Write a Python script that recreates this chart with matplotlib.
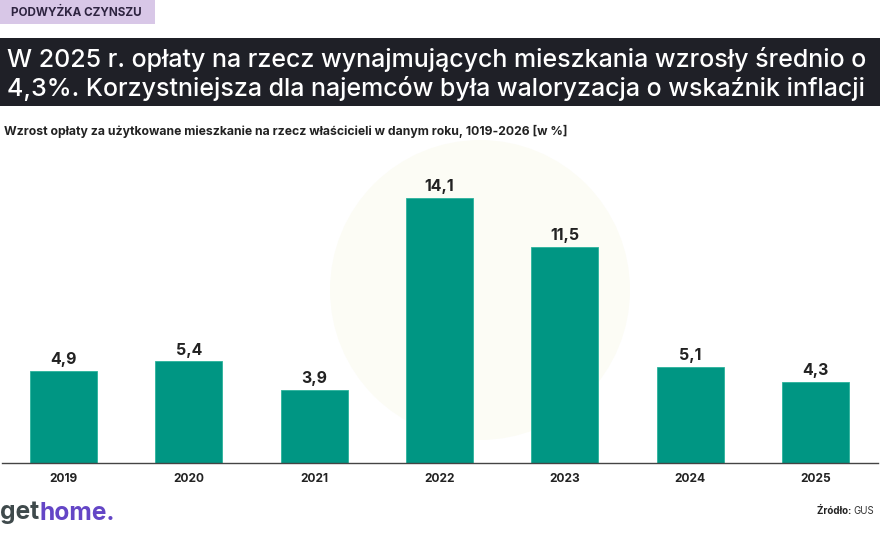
import matplotlib.pyplot as plt
from matplotlib.patches import Rectangle, Ellipse

plt.rcParams['font.family'] = ['Inter', 'DejaVu Sans']

years = ['2019', '2020', '2021', '2022', '2023', '2024', '2025']
values = [4.9, 5.4, 3.9, 14.1, 11.5, 5.1, 4.3]
labels = ['4,9', '5,4', '3,9', '14,1', '11,5', '5,1', '4,3']

W, H = 880, 540
fig = plt.figure(figsize=(W / 100, H / 100), dpi=100)
fig.patch.set_facecolor('white')


def px(x, y):
    # pixel coords (from top-left) -> figure fraction
    return x / W, 1 - y / H


# faint watermark circle behind the chart
wm = Ellipse(px(480, 290), 300 / W, 300 / H, transform=fig.transFigure,
             facecolor='#fcfcf5', edgecolor='none', zorder=-5)
fig.add_artist(wm)

# tag box
fig.add_artist(Rectangle(px(0, 24), 155 / W, 24 / H, transform=fig.transFigure,
                         facecolor='#d8c7e7', edgecolor='none'))
fig.text(*px(11, 12.5), 'PODWYŻKA CZYNSZU', fontsize=8.4, fontweight='bold',
         color='#2e2440', va='center', ha='left')

# title box
fig.add_artist(Rectangle(px(0, 106), 1, 68 / H, transform=fig.transFigure,
                         facecolor='#1f2027', edgecolor='none'))
fig.text(*px(7, 59), 'W 2025 r. opłaty na rzecz wynajmujących mieszkania wzrosły średnio o',
         fontsize=18, fontweight='medium', color='white', va='center', ha='left')
fig.text(*px(7, 89), '4,3%. Korzystniejsza dla najemców była waloryzacja o wskaźnik inflacji',
         fontsize=18, fontweight='medium', color='white', va='center', ha='left')

fig.text(*px(4, 131), 'Wzrost opłaty za użytkowane mieszkanie na rzecz właścicieli w danym roku, 1019-2026 [w %]',
         fontsize=8.8, fontweight='bold', color='#222222', va='center', ha='left')

# axes
ax = fig.add_axes([2 / W, (H - 463) / H, 876 / W, 282 / H], zorder=2)
ax.patch.set_alpha(0)
x = range(len(years))
ax.bar(x, values, width=0.535, color='#009683', edgecolor='#2bb39c', linewidth=0.6, zorder=2)
for xi, v, lab in zip(x, values, labels):
    ax.text(xi, v + 0.2, lab, ha='center', va='bottom', fontsize=11.5,
            fontweight='bold', color='#222222')
ax.set_xlim(-0.491, 6.499)
ax.set_ylim(0, 15)
ax.set_xticks(list(x))
ax.set_xticklabels(years, fontsize=8.6, fontweight='bold', color='#222222')
ax.tick_params(axis='x', length=0, pad=7)
ax.set_yticks([])
for s in ['top', 'right', 'left']:
    ax.spines[s].set_visible(False)
ax.spines['bottom'].set_color('#444444')
ax.spines['bottom'].set_linewidth(1.0)

# logo
t1 = fig.text(*px(0, 513), 'get', fontsize=17.7, fontweight='bold', color='#3f4a4c',
              va='center', ha='left')
fig.canvas.draw()
bb = t1.get_window_extent()
fig.text(bb.x1 / W, 1 - 513 / H, 'home.', fontsize=17.7, fontweight='bold',
         color='#6446c6', va='center', ha='left')

# source
t2 = fig.text(*px(874, 511), 'GUS', fontsize=7, color='#333333', va='center', ha='right')
fig.canvas.draw()
bb2 = t2.get_window_extent()
fig.text(bb2.x0 / W, 1 - 511 / H, 'Źródło: ', fontsize=7, fontweight='bold',
         color='#222222', va='center', ha='right')

fig.savefig('out.png', dpi=100)
